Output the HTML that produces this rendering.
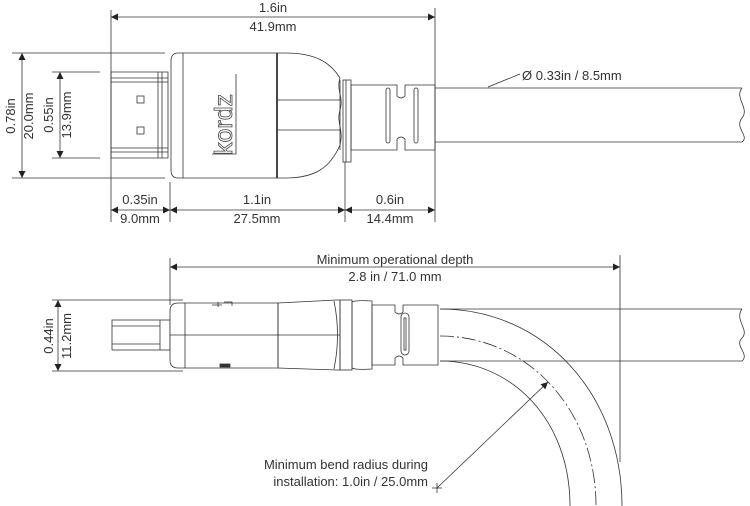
<!DOCTYPE html>
<html><head><meta charset="utf-8"><style>
html,body{margin:0;padding:0;background:#fff;}
svg{display:block;}
text{font-family:"Liberation Sans",sans-serif;fill:#333;font-size:13px;}
</style></head><body>
<svg width="750" height="506" viewBox="0 0 750 506" xmlns="http://www.w3.org/2000/svg">
<defs>
<marker id="a" viewBox="0 0 10 10" refX="10" refY="5" markerWidth="9" markerHeight="7" orient="auto-start-reverse" markerUnits="userSpaceOnUse"><path d="M0,0 L10,5 L0,10 z" fill="#222"/></marker>
</defs>
<g stroke="#333" fill="none" stroke-width="0.8">
<line x1="111" y1="10" x2="111" y2="222"/>
<line x1="435" y1="8" x2="435" y2="222"/>
<line x1="170" y1="182" x2="170" y2="222"/>
<line x1="345" y1="162" x2="345" y2="222"/>
<line x1="12" y1="53" x2="165" y2="53"/>
<line x1="12" y1="178" x2="165" y2="178"/>
<line x1="52" y1="72" x2="100" y2="72"/>
<line x1="52" y1="158" x2="100" y2="158"/>
<line x1="111" y1="17" x2="435" y2="17" marker-start="url(#a)" marker-end="url(#a)"/>
<line x1="22" y1="53" x2="22" y2="178" marker-start="url(#a)" marker-end="url(#a)"/>
<line x1="60" y1="72" x2="60" y2="158" marker-start="url(#a)" marker-end="url(#a)"/>
<line x1="111" y1="210" x2="170" y2="210" marker-start="url(#a)" marker-end="url(#a)"/>
<line x1="170" y1="210" x2="345" y2="210" marker-start="url(#a)" marker-end="url(#a)"/>
<line x1="345" y1="210" x2="435" y2="210" marker-start="url(#a)" marker-end="url(#a)"/>
<line x1="435" y1="88" x2="742" y2="88"/>
<line x1="435" y1="142" x2="742" y2="142"/>
<path d="M742,88 C734,98 750,108 742,118 C734,128 750,136 742,142"/>
<line x1="488" y1="87" x2="520" y2="74"/>
<path d="M111,72 H168 V158 H111 Z"/>
<line x1="111" y1="78" x2="168" y2="78"/><line x1="111" y1="82" x2="168" y2="82"/>
<line x1="111" y1="148" x2="168" y2="148"/><line x1="111" y1="152" x2="168" y2="152"/>
<line x1="158" y1="72" x2="158" y2="158"/><line x1="162" y1="72" x2="162" y2="158"/>
<rect x="137" y="96" width="7" height="7"/><rect x="137" y="127" width="7" height="7"/>
<path d="M178,53 H277 V178 H178 Q171,178 171,170 V61 Q171,53 178,53 Z" fill="#fff"/>
<line x1="183" y1="53" x2="183" y2="178"/>
<line x1="277" y1="53" x2="277" y2="178" stroke-width="1.8"/>
<path d="M277,53 H285 C315,53 330,62 340,78 C336,90 344,98 340,110 C336,122 344,130 340,145 C330,168 315,178 285,178 H277"/>
<line x1="277" y1="100" x2="340" y2="100"/>
<line x1="277" y1="130" x2="340" y2="130"/>
<path d="M340,80 V150"/>
<rect x="343" y="80" width="8" height="82"/>
<line x1="346" y1="80" x2="346" y2="162"/>
<path d="M351,85 H397 V96 Q401,100 405,96 V85 H435 V150 H405 V139 Q401,135 397,139 V150 H351 Z"/>
<rect x="386" y="88" width="4" height="55" rx="2"/>
<rect x="414" y="88" width="4" height="55" rx="2"/>
<path d="M212,154 H236 V74"/>
</g>
<text transform="translate(232,155) rotate(-90)" style="font-size:25px;fill:#fff;stroke:#444;stroke-width:0.8">kordz</text>

<text x="273" y="12" text-anchor="middle">1.6in</text>
<text x="273" y="31" text-anchor="middle">41.9mm</text>
<text x="140" y="204" text-anchor="middle">0.35in</text>
<text x="140" y="223" text-anchor="middle">9.0mm</text>
<text x="257" y="204" text-anchor="middle">1.1in</text>
<text x="257" y="223" text-anchor="middle">27.5mm</text>
<text x="390" y="204" text-anchor="middle">0.6in</text>
<text x="390" y="223" text-anchor="middle">14.4mm</text>
<text x="522" y="80">Ø 0.33in / 8.5mm</text>
<text transform="translate(15,116) rotate(-90)" text-anchor="middle">0.78in</text>
<text transform="translate(33,116) rotate(-90)" text-anchor="middle">20.0mm</text>
<text transform="translate(53,115) rotate(-90)" text-anchor="middle">0.55in</text>
<text transform="translate(71,115) rotate(-90)" text-anchor="middle">13.9mm</text>

<g stroke="#333" fill="none" stroke-width="0.8">
<line x1="170" y1="258" x2="170" y2="305"/>
<line x1="620" y1="255" x2="620" y2="462"/>
<line x1="170" y1="267" x2="620" y2="267" marker-start="url(#a)" marker-end="url(#a)"/>
<line x1="52" y1="300" x2="183" y2="300"/>
<line x1="52" y1="371" x2="183" y2="371"/>
<line x1="58" y1="300" x2="58" y2="371" marker-start="url(#a)" marker-end="url(#a)"/>
<line x1="440" y1="309" x2="742" y2="309"/>
<line x1="440" y1="361" x2="742" y2="361"/>
<path d="M742,309 C734,320 750,330 742,338 C734,346 750,354 742,361"/>
<path d="M440,309 C545,309 622,395 622,506"/>
<path d="M440,361 C512,361 570,420 570,506"/>
<path d="M440,336 C528,336 596,410 596,506" stroke-dasharray="14,3,2,3"/>
<line x1="437" y1="488" x2="548" y2="382" marker-end="url(#a)"/>
<line x1="432" y1="488" x2="442" y2="488"/><line x1="437" y1="483" x2="437" y2="493"/>
<rect x="112" y="320" width="58" height="30"/>
<line x1="112" y1="326" x2="160" y2="326"/><line x1="112" y1="344" x2="160" y2="344"/>
<line x1="160" y1="320" x2="160" y2="350"/>
<path d="M178,303 H278 V368 H178 Q170,368 170,360 V311 Q170,303 178,303 Z" fill="#fff"/>
<line x1="185" y1="303" x2="185" y2="368"/>
<line x1="170" y1="335" x2="340" y2="335"/>
<line x1="278" y1="303" x2="278" y2="368"/>
<path d="M278,303 L336,300 L340,300 V370 L336,370 L278,368"/>
<path d="M334,301 Q341,335 334,369"/>
<rect x="340" y="300" width="12" height="70"/>
<path d="M352,302 Q355,300 372,301 V369 Q355,370 352,368 Z"/>
<path d="M372,305 H395 V312 Q399,316 403,312 V305 H438 V365 H403 V358 Q399,354 395,358 V365 H372 Z"/>
<rect x="401" y="313" width="8" height="42" rx="4"/>
<rect x="404" y="318" width="2" height="32"/>
<rect x="220" y="364" width="10" height="3" fill="#333"/>
<path d="M212,305 h10 M218,302 v5 M224,302 h8 v4"/>
</g>
<text x="395" y="264" text-anchor="middle">Minimum operational depth</text>
<text x="395" y="281" text-anchor="middle">2.8 in / 71.0 mm</text>
<text transform="translate(53,336) rotate(-90)" text-anchor="middle">0.44in</text>
<text transform="translate(71,336) rotate(-90)" text-anchor="middle">11.2mm</text>
<text x="428" y="469" text-anchor="end">Minimum bend radius during</text>
<text x="428" y="486" text-anchor="end">installation: 1.0in / 25.0mm</text>
</svg>
</body></html>
